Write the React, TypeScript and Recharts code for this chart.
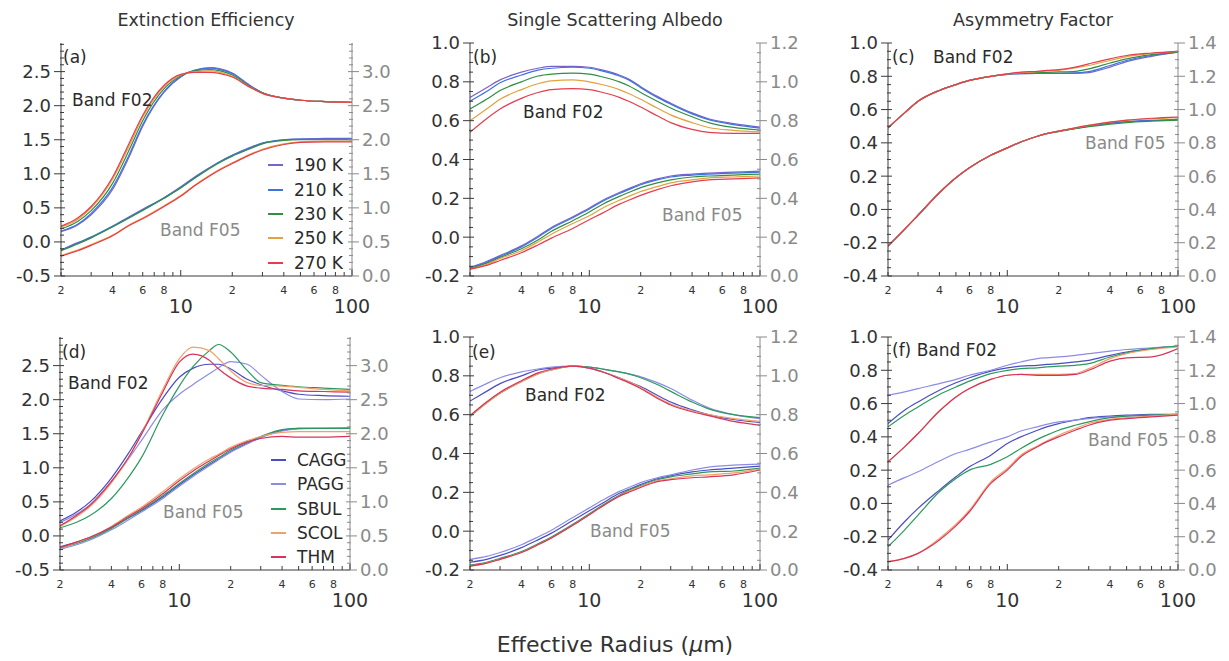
import { Line, LineChart, XAxis, YAxis } from "recharts";

// effective radius grid (µm) shared by every panel
const RADIUS = [2, 2.5, 3, 4, 5, 6, 8, 10, 12, 15, 17, 20, 25, 30, 40, 50, 70, 100];

const TEMPS = ["190 K", "210 K", "230 K", "250 K", "270 K"];
const TEMP_COLORS = ["#7b63c9", "#3d72e0", "#2f8f45", "#e2a23c", "#e63c50"];
const HABITS = ["CAGG", "PAGG", "SBUL", "SCOL", "THM"];
const HABIT_COLORS = ["#4a4cc4", "#8c8ce6", "#2a9a5c", "#f2a06a", "#d8345a"];

const X_TICKS = [2, 3, 4, 5, 6, 7, 8, 9, 10, 20, 30, 40, 50, 60, 70, 80, 90, 100];
const X_LABELS: Record<number, string> = {
  2: "2", 4: "4", 6: "6", 8: "8", 10: "10", 20: "2", 40: "4", 60: "6", 80: "8", 100: "100",
};

const EXT_LEFT = [-0.5, 0, 0.5, 1, 1.5, 2, 2.5];
const EXT_RIGHT = [0, 0.5, 1, 1.5, 2, 2.5, 3];
const SSA_LEFT = [-0.2, 0, 0.2, 0.4, 0.6, 0.8, 1.0];
const SSA_RIGHT = [0, 0.2, 0.4, 0.6, 0.8, 1.0, 1.2];
const ASY_LEFT = [-0.4, -0.2, 0, 0.2, 0.4, 0.6, 0.8, 1.0];
const ASY_RIGHT = [0, 0.2, 0.4, 0.6, 0.8, 1.0, 1.2, 1.4];

// (a) extinction efficiency vs temperature; rows follow TEMPS. F05 in right-axis units
const EXT_T_F02 = [
  [0.15, 0.25, 0.40, 0.77, 1.25, 1.70, 2.20, 2.42, 2.52, 2.56, 2.54, 2.48, 2.31, 2.19, 2.11, 2.08, 2.06, 2.05],
  [0.16, 0.26, 0.42, 0.80, 1.28, 1.72, 2.21, 2.43, 2.52, 2.55, 2.53, 2.47, 2.30, 2.19, 2.11, 2.08, 2.06, 2.05],
  [0.19, 0.30, 0.46, 0.86, 1.35, 1.78, 2.25, 2.44, 2.51, 2.53, 2.51, 2.45, 2.29, 2.19, 2.11, 2.08, 2.06, 2.05],
  [0.22, 0.33, 0.50, 0.92, 1.41, 1.83, 2.28, 2.45, 2.50, 2.51, 2.49, 2.43, 2.28, 2.18, 2.11, 2.08, 2.06, 2.05],
  [0.23, 0.35, 0.52, 0.95, 1.45, 1.86, 2.30, 2.46, 2.49, 2.49, 2.47, 2.42, 2.28, 2.18, 2.11, 2.08, 2.06, 2.05],
];
const EXT_T_F05 = [
  [0.38, 0.49, 0.57, 0.73, 0.87, 0.98, 1.15, 1.31, 1.45, 1.60, 1.68, 1.77, 1.88, 1.95, 2.00, 2.01, 2.02, 2.02],
  [0.38, 0.48, 0.57, 0.73, 0.86, 0.97, 1.15, 1.30, 1.44, 1.60, 1.68, 1.77, 1.87, 1.95, 2.00, 2.01, 2.01, 2.01],
  [0.37, 0.47, 0.56, 0.72, 0.85, 0.96, 1.14, 1.29, 1.43, 1.59, 1.67, 1.76, 1.86, 1.94, 1.99, 2.00, 2.00, 2.00],
  [0.30, 0.38, 0.46, 0.60, 0.75, 0.85, 1.03, 1.18, 1.33, 1.49, 1.57, 1.66, 1.78, 1.86, 1.94, 1.97, 1.98, 1.98],
  [0.29, 0.37, 0.45, 0.59, 0.74, 0.84, 1.02, 1.17, 1.32, 1.48, 1.56, 1.65, 1.77, 1.85, 1.93, 1.96, 1.97, 1.97],
];

// (b) single scattering albedo vs temperature
const SSA_T_F02 = [
  [0.72, 0.77, 0.81, 0.85, 0.87, 0.88, 0.88, 0.875, 0.86, 0.835, 0.815, 0.775, 0.725, 0.69, 0.64, 0.61, 0.585, 0.567],
  [0.70, 0.75, 0.795, 0.835, 0.86, 0.87, 0.875, 0.87, 0.855, 0.83, 0.81, 0.77, 0.72, 0.685, 0.635, 0.605, 0.58, 0.562],
  [0.66, 0.71, 0.755, 0.80, 0.83, 0.84, 0.845, 0.84, 0.825, 0.80, 0.78, 0.745, 0.70, 0.665, 0.62, 0.59, 0.565, 0.552],
  [0.60, 0.66, 0.71, 0.76, 0.79, 0.805, 0.81, 0.80, 0.785, 0.76, 0.74, 0.71, 0.665, 0.63, 0.59, 0.565, 0.55, 0.542],
  [0.54, 0.61, 0.66, 0.715, 0.745, 0.76, 0.765, 0.76, 0.745, 0.72, 0.70, 0.67, 0.625, 0.59, 0.555, 0.54, 0.535, 0.535],
];
const SSA_T_F05 = [
  [0.045, 0.075, 0.105, 0.155, 0.205, 0.25, 0.305, 0.35, 0.39, 0.43, 0.45, 0.475, 0.50, 0.515, 0.525, 0.53, 0.535, 0.54],
  [0.04, 0.07, 0.10, 0.15, 0.20, 0.245, 0.30, 0.345, 0.385, 0.425, 0.445, 0.47, 0.495, 0.51, 0.52, 0.525, 0.53, 0.535],
  [0.04, 0.065, 0.095, 0.14, 0.185, 0.23, 0.285, 0.33, 0.37, 0.41, 0.43, 0.455, 0.48, 0.495, 0.51, 0.515, 0.52, 0.525],
  [0.035, 0.06, 0.09, 0.13, 0.175, 0.215, 0.27, 0.31, 0.35, 0.39, 0.41, 0.435, 0.46, 0.48, 0.495, 0.505, 0.51, 0.515],
  [0.035, 0.055, 0.08, 0.12, 0.16, 0.195, 0.245, 0.29, 0.325, 0.37, 0.39, 0.415, 0.445, 0.465, 0.485, 0.495, 0.50, 0.505],
];

// (c) asymmetry factor vs temperature
const ASY_T_F02 = [
  [0.49, 0.58, 0.65, 0.715, 0.75, 0.775, 0.80, 0.812, 0.816, 0.818, 0.818, 0.818, 0.818, 0.822, 0.855, 0.888, 0.92, 0.945],
  [0.49, 0.58, 0.65, 0.715, 0.75, 0.775, 0.80, 0.812, 0.816, 0.818, 0.818, 0.818, 0.82, 0.828, 0.865, 0.895, 0.925, 0.945],
  [0.49, 0.58, 0.65, 0.715, 0.75, 0.775, 0.80, 0.813, 0.818, 0.822, 0.824, 0.826, 0.83, 0.845, 0.88, 0.905, 0.93, 0.947],
  [0.49, 0.58, 0.65, 0.715, 0.75, 0.775, 0.80, 0.815, 0.822, 0.828, 0.832, 0.836, 0.85, 0.865, 0.895, 0.918, 0.937, 0.95],
  [0.49, 0.58, 0.65, 0.715, 0.75, 0.775, 0.80, 0.815, 0.825, 0.83, 0.835, 0.84, 0.855, 0.875, 0.905, 0.925, 0.94, 0.95],
];
const ASY_T_F05 = [
  [0.18, 0.28, 0.365, 0.50, 0.59, 0.65, 0.725, 0.77, 0.805, 0.84, 0.855, 0.87, 0.887, 0.90, 0.918, 0.927, 0.935, 0.94],
  [0.18, 0.28, 0.365, 0.50, 0.59, 0.65, 0.725, 0.77, 0.805, 0.84, 0.855, 0.87, 0.887, 0.90, 0.918, 0.927, 0.935, 0.94],
  [0.18, 0.28, 0.365, 0.50, 0.59, 0.65, 0.725, 0.77, 0.805, 0.84, 0.855, 0.868, 0.885, 0.897, 0.913, 0.922, 0.93, 0.936],
  [0.18, 0.28, 0.365, 0.50, 0.59, 0.65, 0.725, 0.77, 0.805, 0.84, 0.855, 0.87, 0.89, 0.905, 0.925, 0.935, 0.945, 0.952],
  [0.18, 0.28, 0.365, 0.50, 0.59, 0.65, 0.725, 0.77, 0.805, 0.84, 0.855, 0.87, 0.89, 0.905, 0.925, 0.937, 0.948, 0.955],
];

// (d) extinction efficiency vs habit; rows follow HABITS
const EXT_H_F02 = [
  [0.22, 0.35, 0.50, 0.85, 1.20, 1.52, 2.02, 2.33, 2.46, 2.52, 2.52, 2.45, 2.30, 2.22, 2.13, 2.08, 2.06, 2.05],
  [0.20, 0.32, 0.46, 0.80, 1.12, 1.40, 1.85, 2.08, 2.22, 2.38, 2.47, 2.56, 2.52, 2.36, 2.12, 2.01, 2.00, 2.01],
  [0.12, 0.20, 0.30, 0.55, 0.85, 1.15, 1.78, 2.20, 2.48, 2.72, 2.81, 2.70, 2.43, 2.25, 2.21, 2.19, 2.17, 2.15],
  [0.14, 0.28, 0.43, 0.78, 1.13, 1.50, 2.15, 2.60, 2.77, 2.72, 2.60, 2.42, 2.25, 2.21, 2.20, 2.18, 2.15, 2.13],
  [0.15, 0.30, 0.45, 0.80, 1.14, 1.49, 2.11, 2.55, 2.67, 2.58, 2.45, 2.32, 2.20, 2.17, 2.15, 2.13, 2.12, 2.11],
];
const EXT_H_F05 = [
  [0.34, 0.41, 0.48, 0.62, 0.76, 0.87, 1.07, 1.25, 1.39, 1.55, 1.63, 1.74, 1.86, 1.95, 2.05, 2.08, 2.08, 2.08],
  [0.30, 0.37, 0.44, 0.59, 0.73, 0.85, 1.05, 1.23, 1.37, 1.53, 1.62, 1.73, 1.85, 1.94, 2.04, 2.07, 2.08, 2.09],
  [0.32, 0.39, 0.46, 0.61, 0.76, 0.88, 1.09, 1.27, 1.41, 1.57, 1.65, 1.76, 1.88, 1.96, 2.06, 2.08, 2.08, 2.08],
  [0.32, 0.40, 0.48, 0.64, 0.80, 0.92, 1.15, 1.34, 1.48, 1.63, 1.70, 1.80, 1.90, 1.96, 2.02, 2.03, 2.03, 2.03],
  [0.33, 0.41, 0.48, 0.63, 0.78, 0.90, 1.12, 1.31, 1.45, 1.60, 1.68, 1.78, 1.88, 1.93, 1.96, 1.95, 1.95, 1.96],
];

// (e) single scattering albedo vs habit
const SSA_H_F02 = [
  [0.67, 0.72, 0.76, 0.80, 0.83, 0.84, 0.85, 0.84, 0.82, 0.79, 0.77, 0.745, 0.70, 0.665, 0.625, 0.60, 0.575, 0.56],
  [0.72, 0.76, 0.79, 0.82, 0.835, 0.845, 0.85, 0.845, 0.835, 0.82, 0.81, 0.795, 0.765, 0.735, 0.675, 0.635, 0.60, 0.58],
  [0.59, 0.66, 0.71, 0.77, 0.81, 0.83, 0.85, 0.845, 0.835, 0.82, 0.81, 0.79, 0.755, 0.72, 0.665, 0.63, 0.60, 0.585],
  [0.59, 0.66, 0.71, 0.77, 0.81, 0.83, 0.85, 0.84, 0.82, 0.79, 0.77, 0.74, 0.69, 0.655, 0.62, 0.60, 0.58, 0.565],
  [0.595, 0.665, 0.715, 0.775, 0.815, 0.835, 0.85, 0.84, 0.82, 0.785, 0.765, 0.735, 0.685, 0.65, 0.615, 0.595, 0.565, 0.545],
];
const SSA_H_F05 = [
  [0.04, 0.055, 0.075, 0.115, 0.155, 0.19, 0.255, 0.305, 0.345, 0.395, 0.415, 0.44, 0.47, 0.485, 0.505, 0.515, 0.525, 0.535],
  [0.055, 0.07, 0.09, 0.13, 0.17, 0.205, 0.27, 0.32, 0.36, 0.405, 0.425, 0.45, 0.475, 0.49, 0.515, 0.53, 0.54, 0.545],
  [0.025, 0.04, 0.06, 0.095, 0.135, 0.17, 0.235, 0.29, 0.335, 0.385, 0.41, 0.435, 0.465, 0.48, 0.495, 0.505, 0.51, 0.525],
  [0.02, 0.035, 0.055, 0.09, 0.13, 0.165, 0.23, 0.285, 0.33, 0.38, 0.405, 0.43, 0.46, 0.47, 0.485, 0.49, 0.50, 0.52],
  [0.02, 0.035, 0.055, 0.09, 0.13, 0.165, 0.23, 0.285, 0.33, 0.38, 0.40, 0.425, 0.455, 0.465, 0.475, 0.48, 0.49, 0.515],
];

// (f) asymmetry factor vs habit
const ASY_H_F02 = [
  [0.48, 0.56, 0.61, 0.68, 0.725, 0.755, 0.795, 0.815, 0.825, 0.83, 0.835, 0.84, 0.85, 0.86, 0.89, 0.91, 0.93, 0.945],
  [0.65, 0.67, 0.69, 0.72, 0.745, 0.77, 0.80, 0.83, 0.85, 0.87, 0.875, 0.88, 0.89, 0.90, 0.915, 0.925, 0.935, 0.945],
  [0.46, 0.53, 0.58, 0.655, 0.70, 0.735, 0.78, 0.80, 0.81, 0.815, 0.82, 0.825, 0.83, 0.84, 0.88, 0.905, 0.93, 0.945],
  [0.25, 0.34, 0.42, 0.555, 0.64, 0.69, 0.745, 0.77, 0.775, 0.775, 0.775, 0.775, 0.78, 0.81, 0.87, 0.90, 0.925, 0.94],
  [0.25, 0.34, 0.42, 0.555, 0.64, 0.69, 0.745, 0.77, 0.775, 0.77, 0.77, 0.77, 0.775, 0.80, 0.855, 0.875, 0.88, 0.93],
];
const ASY_H_F05 = [
  [0.18, 0.29, 0.37, 0.48, 0.56, 0.62, 0.69, 0.76, 0.80, 0.84, 0.86, 0.88, 0.90, 0.915, 0.925, 0.93, 0.935, 0.935],
  [0.51, 0.555, 0.59, 0.655, 0.70, 0.725, 0.77, 0.80, 0.835, 0.86, 0.875, 0.89, 0.90, 0.91, 0.92, 0.925, 0.93, 0.935],
  [0.14, 0.24, 0.33, 0.47, 0.55, 0.60, 0.635, 0.68, 0.73, 0.785, 0.81, 0.84, 0.87, 0.89, 0.915, 0.925, 0.93, 0.935],
  [0.05, 0.07, 0.10, 0.19, 0.275, 0.36, 0.53, 0.61, 0.69, 0.745, 0.775, 0.81, 0.85, 0.88, 0.905, 0.915, 0.925, 0.935],
  [0.05, 0.07, 0.10, 0.18, 0.265, 0.35, 0.52, 0.60, 0.68, 0.74, 0.77, 0.80, 0.84, 0.87, 0.90, 0.91, 0.92, 0.93],
];

const DARK = "#3a3a3a";
const GRAY = "#8a8a8a";
const FONT = "'DejaVu Sans', Verdana, sans-serif";

function withMinors(domain: [number, number], step: number) {
  const out: number[] = [];
  const n = Math.floor((domain[1] - domain[0]) / step + 1e-6);
  for (let i = 0; i <= n; i++) out.push(+(domain[0] + i * step).toFixed(3));
  return out;
}

function YTick(props: any) {
  const { x, y, payload, side, majors } = props;
  const v = payload.value as number;
  const major = majors.some((m: number) => Math.abs(m - v) < 1e-6);
  const color = side === "left" ? DARK : GRAY;
  const dir = side === "left" ? -1 : 1;
  if (!major) {
    return <line x1={x - dir * 3} x2={x + dir * 1} y1={y} y2={y} stroke={color} strokeWidth={1} />;
  }
  return (
    <g>
      <line x1={x - dir * 4} x2={x + dir * 7} y1={y} y2={y} stroke={color} strokeWidth={1} />
      <text
        x={x + dir * 10}
        y={y}
        dy="0.36em"
        textAnchor={side === "left" ? "end" : "start"}
        fill={side === "left" ? "#333" : GRAY}
        fontSize={18}
      >
        {v.toFixed(1)}
      </text>
    </g>
  );
}

function XTick(props: any) {
  const { x, y, payload, top } = props;
  const v = payload.value as number;
  const big = v === 10 || v === 100;
  const len = big ? 6 : 4;
  if (top) return <line x1={x} x2={x} y1={y} y2={y + len} stroke={DARK} strokeWidth={1} />;
  const lab = X_LABELS[v];
  return (
    <g>
      <line x1={x} x2={x} y1={y} y2={y - len} stroke={DARK} strokeWidth={1} />
      {lab && (
        <text x={x} y={y + (big ? 30 : 14)} dy="0.36em" textAnchor="middle" fontSize={big ? 19 : 11} fill="#333">
          {lab}
        </text>
      )}
    </g>
  );
}

type PanelProps = {
  left: number;
  top: number;
  width: number;
  height: number;
  yL: [number, number];
  yR: [number, number];
  majL: number[];
  majR: number[];
  step: number;
  f02: number[][];
  f05: number[][];
  colors: string[];
};

function Panel({ left, top, width, height, yL, yR, majL, majR, step, f02, f05, colors }: PanelProps) {
  const data = RADIUS.map((r, i) => {
    const row: Record<string, number> = { r };
    f02.forEach((s, k) => (row[`a${k}`] = s[i]));
    f05.forEach((s, k) => (row[`b${k}`] = s[i]));
    return row;
  });
  const side = 60;
  const pad = 15;
  return (
    <div style={{ position: "absolute", left: left - side, top: top - pad }}>
      <LineChart
        width={width + side * 2}
        height={height + pad + 45}
        data={data}
        margin={{ top: pad, right: 0, bottom: 0, left: 0 }}
      >
        <XAxis
          xAxisId="b"
          dataKey="r"
          type="number"
          scale="log"
          domain={[2, 100]}
          allowDataOverflow
          ticks={X_TICKS}
          interval={0}
          height={45}
          tickSize={0}
          tickMargin={0}
          stroke={DARK}
          tick={(p: any) => <XTick {...p} />}
        />
        <XAxis
          xAxisId="t"
          orientation="top"
          dataKey="r"
          type="number"
          scale="log"
          domain={[2, 100]}
          allowDataOverflow
          ticks={X_TICKS}
          interval={0}
          height={0}
          tickSize={0}
          tickMargin={0}
          stroke={DARK}
          tick={(p: any) => <XTick {...p} top />}
        />
        <YAxis
          yAxisId="L"
          domain={yL}
          allowDataOverflow
          ticks={withMinors(yL, step)}
          interval={0}
          width={side}
          tickSize={0}
          tickMargin={0}
          stroke={DARK}
          tick={(p: any) => <YTick {...p} side="left" majors={majL} />}
        />
        <YAxis
          yAxisId="R"
          orientation="right"
          domain={yR}
          allowDataOverflow
          ticks={withMinors(yR, step)}
          interval={0}
          width={side}
          tickSize={0}
          tickMargin={0}
          stroke={GRAY}
          tick={(p: any) => <YTick {...p} side="right" majors={majR} />}
        />
        {f02.map((_, k) => (
          <Line
            key={`a${k}`}
            xAxisId="b"
            yAxisId="L"
            dataKey={`a${k}`}
            type="monotone"
            stroke={colors[k]}
            strokeWidth={1.2}
            dot={false}
            isAnimationActive={false}
          />
        ))}
        {f05.map((_, k) => (
          <Line
            key={`b${k}`}
            xAxisId="b"
            yAxisId="R"
            dataKey={`b${k}`}
            type="monotone"
            stroke={colors[k]}
            strokeWidth={1.2}
            dot={false}
            isAnimationActive={false}
          />
        ))}
      </LineChart>
    </div>
  );
}

function Txt({ x, cy, children, size = 17, color = "#2a2a2a", center = false }: any) {
  return (
    <div
      style={{
        position: "absolute",
        left: x,
        top: cy - 10,
        lineHeight: "20px",
        fontSize: size,
        color,
        whiteSpace: "nowrap",
        transform: center ? "translateX(-50%)" : undefined,
      }}
    >
      {children}
    </div>
  );
}

function LegendBox({ x, ys, names, colors }: { x: number; ys: number[]; names: string[]; colors: string[] }) {
  return (
    <>
      {names.map((n, i) => (
        <div key={n}>
          <div
            style={{
              position: "absolute",
              left: x,
              top: ys[i] - 1,
              width: 15,
              height: 1.5,
              background: colors[i],
            }}
          />
          <Txt x={x + 26} cy={ys[i]}>
            {n}
          </Txt>
        </div>
      ))}
    </>
  );
}

const EXT_DOM: [number, number] = [-0.5, 2.92];
const EXT_DOM_R: [number, number] = [0, 3.42];

export default function App() {
  return (
    <div
      style={{
        position: "absolute",
        left: 0,
        top: 0,
        width: 1229,
        height: 661,
        background: "#fff",
        fontFamily: FONT,
        overflow: "hidden",
      }}
    >
      <Panel left={61} top={43} width={291} height={233} yL={EXT_DOM} yR={EXT_DOM_R} majL={EXT_LEFT} majR={EXT_RIGHT} step={0.1} f02={EXT_T_F02} f05={EXT_T_F05} colors={TEMP_COLORS} />
      <Panel left={470} top={43} width={290} height={233} yL={[-0.2, 1.0]} yR={[0, 1.2]} majL={SSA_LEFT} majR={SSA_RIGHT} step={0.05} f02={SSA_T_F02} f05={SSA_T_F05} colors={TEMP_COLORS} />
      <Panel left={888} top={43} width={290} height={233} yL={[-0.4, 1.0]} yR={[0, 1.4]} majL={ASY_LEFT} majR={ASY_RIGHT} step={0.05} f02={ASY_T_F02} f05={ASY_T_F05} colors={TEMP_COLORS} />
      <Panel left={60} top={337} width={290} height={233} yL={EXT_DOM} yR={EXT_DOM_R} majL={EXT_LEFT} majR={EXT_RIGHT} step={0.1} f02={EXT_H_F02} f05={EXT_H_F05} colors={HABIT_COLORS} />
      <Panel left={470} top={337} width={290} height={233} yL={[-0.2, 1.0]} yR={[0, 1.2]} majL={SSA_LEFT} majR={SSA_RIGHT} step={0.05} f02={SSA_H_F02} f05={SSA_H_F05} colors={HABIT_COLORS} />
      <Panel left={888} top={337} width={290} height={233} yL={[-0.4, 1.0]} yR={[0, 1.4]} majL={ASY_LEFT} majR={ASY_RIGHT} step={0.05} f02={ASY_H_F02} f05={ASY_H_F05} colors={HABIT_COLORS} />

      <Txt x={206} cy={20} center size={17.5} color="#333">Extinction Efficiency</Txt>
      <Txt x={615} cy={20} center size={17.5} color="#333">Single Scattering Albedo</Txt>
      <Txt x={1033} cy={20} center size={17.5} color="#333">Asymmetry Factor</Txt>
      <Txt x={615} cy={645} center size={22} color="#333">
        Effective Radius (<i>μ</i>m)
      </Txt>

      <Txt x={63} cy={57}>(a)</Txt>
      <Txt x={72} cy={100}>Band F02</Txt>
      <Txt x={160} cy={230} color={GRAY}>Band F05</Txt>

      <Txt x={473} cy={57}>(b)</Txt>
      <Txt x={523} cy={112}>Band F02</Txt>
      <Txt x={662} cy={215} color={GRAY}>Band F05</Txt>

      <Txt x={892} cy={57}>(c)</Txt>
      <Txt x={933} cy={57}>Band F02</Txt>
      <Txt x={1085} cy={143} color={GRAY}>Band F05</Txt>

      <Txt x={62} cy={352}>(d)</Txt>
      <Txt x={68} cy={383}>Band F02</Txt>
      <Txt x={163} cy={512} color={GRAY}>Band F05</Txt>

      <Txt x={472} cy={352}>(e)</Txt>
      <Txt x={525} cy={395}>Band F02</Txt>
      <Txt x={590} cy={531} color={GRAY}>Band F05</Txt>

      <Txt x={892} cy={350}>(f) Band F02</Txt>
      <Txt x={1088} cy={440} color={GRAY}>Band F05</Txt>

      <LegendBox x={268} ys={[165, 190, 214, 238, 263]} names={TEMPS} colors={TEMP_COLORS} />
      <LegendBox x={271} ys={[460, 484, 509, 533, 557]} names={HABITS} colors={HABIT_COLORS} />
    </div>
  );
}
